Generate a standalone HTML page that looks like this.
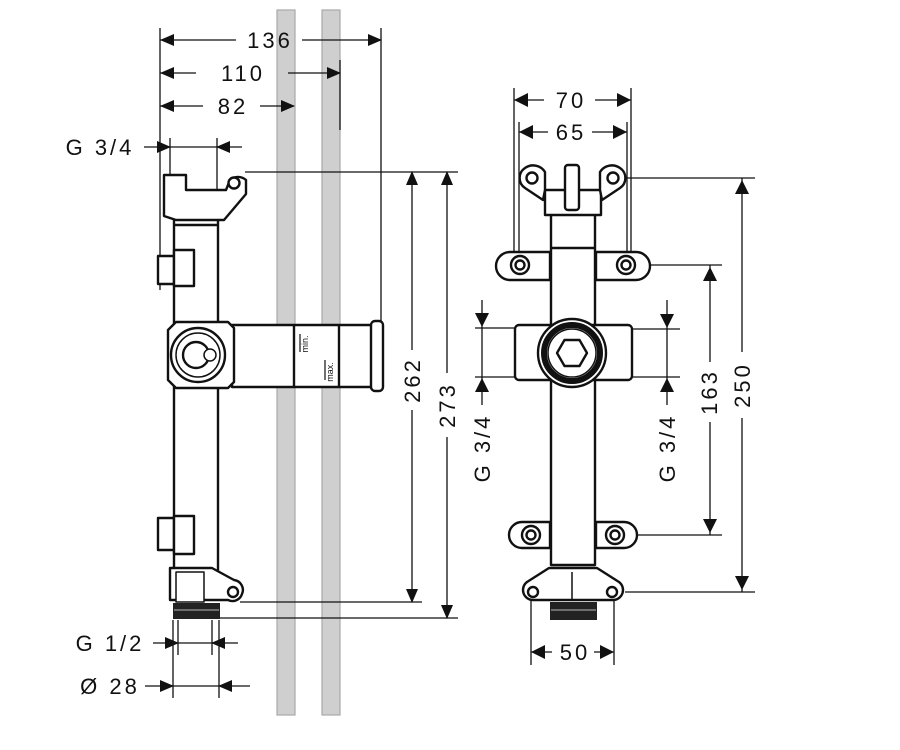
<!DOCTYPE html>
<html><head><meta charset="utf-8"><style>
html,body{margin:0;padding:0;background:#fff;}
svg{display:block;}
text{font-family:"Liberation Sans",sans-serif;fill:#111;letter-spacing:3px;}
</style></head><body>
<svg width="900" height="750" viewBox="0 0 900 750" xmlns="http://www.w3.org/2000/svg">
<defs>
<marker id="a" markerWidth="14" markerHeight="12" refX="13" refY="6" orient="auto" markerUnits="userSpaceOnUse"><path d="M0,0 L14,6 L0,12 Z" fill="#111"/></marker>
</defs>
<rect x="277" y="10" width="18" height="705" fill="#cfcfcf" stroke="#a8a8a8" stroke-width="1.2"/>
<rect x="322" y="10" width="18" height="705" fill="#cfcfcf" stroke="#a8a8a8" stroke-width="1.2"/>

<g stroke="#111" stroke-width="1.3" fill="none">
<line x1="160" y1="28" x2="160" y2="290"/>
<line x1="381" y1="28" x2="381" y2="322"/>
<line x1="340" y1="60" x2="340" y2="130"/>
<line x1="170" y1="138" x2="170" y2="175"/>
<line x1="217" y1="138" x2="217" y2="195"/>
<line x1="160" y1="40" x2="236" y2="40"/>
<line x1="302" y1="40" x2="381" y2="40" marker-end="url(#a)"/>
<line x1="160" y1="73" x2="196" y2="73"/>
<line x1="288" y1="73" x2="340" y2="73" marker-end="url(#a)"/>
<line x1="160" y1="106" x2="203" y2="106"/>
<line x1="260" y1="106" x2="294" y2="106" marker-end="url(#a)"/>
<line x1="144" y1="147" x2="170" y2="147" marker-end="url(#a)"/>
<line x1="170" y1="147" x2="217" y2="147"/>
<line x1="242" y1="147" x2="217" y2="147" marker-end="url(#a)"/>
<line x1="245" y1="172" x2="458" y2="172"/>
<line x1="240" y1="602" x2="422" y2="602"/>
<line x1="220" y1="618" x2="458" y2="618"/>
<line x1="412" y1="350" x2="412" y2="172" marker-end="url(#a)"/>
<line x1="412" y1="410" x2="412" y2="602" marker-end="url(#a)"/>
<line x1="447" y1="373" x2="447" y2="172" marker-end="url(#a)"/>
<line x1="447" y1="437" x2="447" y2="618" marker-end="url(#a)"/>
<line x1="173" y1="620" x2="173" y2="698"/>
<line x1="219" y1="620" x2="219" y2="698"/>
<line x1="178" y1="620" x2="178" y2="655"/>
<line x1="212" y1="620" x2="212" y2="655"/>
<line x1="153" y1="643" x2="178" y2="643" marker-end="url(#a)"/>
<line x1="178" y1="643" x2="212" y2="643"/>
<line x1="238" y1="643" x2="212" y2="643" marker-end="url(#a)"/>
<line x1="145" y1="686" x2="173" y2="686" marker-end="url(#a)"/>
<line x1="173" y1="686" x2="219" y2="686"/>
<line x1="250" y1="686" x2="219" y2="686" marker-end="url(#a)"/>
</g>
<g fill="#111">
<path d="M160,40 l14,-6 v12z"/><path d="M160,73 l14,-6 v12z"/><path d="M160,106 l14,-6 v12z"/>
</g>
<g font-size="22" text-anchor="middle">
<text x="270" y="48">136</text>
<text x="243" y="81">110</text>
<text x="233" y="114">82</text>
<text x="100" y="155">G 3/4</text>
<text x="110" y="651">G 1/2</text>
<text x="110" y="694">Ø 28</text>
<text transform="translate(420,380) rotate(-90)">262</text>
<text transform="translate(455,405) rotate(-90)">273</text>
</g>

<g stroke="#111" stroke-width="2.4" fill="#fff" stroke-linejoin="round">
<rect x="174" y="195" width="44" height="400"/>
<path d="M164,175 h22 v15 h40 l4,-10 a12,12 0 0 1 16,0 v14 l-22,26 h-48 l-12,-4z"/>
<circle cx="234" cy="183" r="5.5"/>
<line x1="174" y1="225" x2="218" y2="225"/>
<path d="M158,256 h16 v28 h-16 z"/>
<rect x="174" y="250" width="20" height="36"/>
<rect x="232" y="325" width="140" height="62"/>
<rect x="371" y="321" width="12" height="70" rx="4"/>
<line x1="294" y1="325" x2="294" y2="387"/>
<line x1="339" y1="325" x2="339" y2="387"/>
<path d="M176,322 h52 l6,6 v54 l-6,6 h-52 l-8,-8 v-50z"/>
<circle cx="198" cy="355" r="27"/>
<circle cx="198" cy="355" r="22" stroke-width="1.5"/>
<circle cx="196" cy="355" r="13"/>
<circle cx="210" cy="355" r="6" stroke-width="1.5"/>
<path d="M158,518 h16 v32 h-16z"/>
<rect x="174" y="516" width="20" height="38"/>
<path d="M170,568 h42 l22,12 a10,10 0 0 1 8,14 a10,10 0 0 1 -14,6 h-58z"/>
<circle cx="233" cy="592" r="5"/>
<rect x="176" y="572" width="28" height="30" stroke-width="1.5"/>
</g>
<rect x="173" y="603" width="47" height="16" fill="#222"/>
<line x1="174" y1="610" x2="219" y2="610" stroke="#888" stroke-width="1.5"/>
<g font-size="9" text-anchor="middle" style="letter-spacing:0">
<text transform="translate(308,344) rotate(-90)" style="letter-spacing:0">min.</text>
<text transform="translate(333,372) rotate(-90)" style="letter-spacing:0">max.</text>
</g>
<g stroke="#111" stroke-width="1.2">
<line x1="300" y1="334" x2="300" y2="352"/><line x1="325" y1="360" x2="325" y2="380"/>
</g>

<g stroke="#111" stroke-width="1.3" fill="none">
<line x1="514" y1="88" x2="514" y2="255"/>
<line x1="631" y1="88" x2="631" y2="255"/>
<line x1="519" y1="122" x2="519" y2="255"/>
<line x1="627" y1="122" x2="627" y2="255"/>
<line x1="514" y1="100" x2="544" y2="100"/><line x1="595" y1="100" x2="631" y2="100"/>
<line x1="519" y1="132" x2="548" y2="132"/><line x1="592" y1="132" x2="627" y2="132"/>
<line x1="625" y1="178" x2="755" y2="178"/>
<line x1="645" y1="265" x2="722" y2="265"/>
<line x1="635" y1="535" x2="722" y2="535"/>
<line x1="625" y1="592" x2="755" y2="592"/>
<line x1="742" y1="178" x2="742" y2="352"/><line x1="742" y1="418" x2="742" y2="592"/>
<line x1="710" y1="265" x2="710" y2="362"/><line x1="710" y1="422" x2="710" y2="535"/>
<line x1="475" y1="328" x2="515" y2="328"/><line x1="475" y1="377" x2="515" y2="377"/>
<line x1="482" y1="300" x2="482" y2="405"/>
<line x1="632" y1="329" x2="680" y2="329"/><line x1="632" y1="377" x2="680" y2="377"/>
<line x1="667" y1="300" x2="667" y2="405"/>
<line x1="531" y1="600" x2="531" y2="665"/><line x1="614" y1="600" x2="614" y2="665"/>
<line x1="531" y1="652" x2="552" y2="652"/><line x1="594" y1="652" x2="614" y2="652"/>
</g>
<g fill="#111">
<path d="M514,100 l14,-7 v14z"/><path d="M631,100 l-14,-7 v14z"/>
<path d="M519,132 l14,-7 v14z"/><path d="M627,132 l-14,-7 v14z"/>
<path d="M742,180 l-7,14 h14z"/><path d="M742,590 l-7,-14 h14z"/>
<path d="M710,267 l-7,14 h14z"/><path d="M710,533 l-7,-14 h14z"/>
<path d="M482,327 l-7,-14 h14z"/><path d="M482,378 l-7,14 h14z"/>
<path d="M667,328 l-7,-14 h14z"/><path d="M667,378 l-7,14 h14z"/>
<path d="M531,652 l14,-7 v14z"/><path d="M614,652 l-14,-7 v14z"/>
</g>
<g font-size="22" text-anchor="middle">
<text x="571" y="108">70</text>
<text x="571" y="140">65</text>
<text x="575" y="660">50</text>
<text transform="translate(490,448) rotate(-90)">G 3/4</text>
<text transform="translate(675,448) rotate(-90)">G 3/4</text>
<text transform="translate(717,392) rotate(-90)">163</text>
<text transform="translate(750,385) rotate(-90)">250</text>
</g>

<g stroke="#111" stroke-width="2.4" fill="#fff" stroke-linejoin="round">
<rect x="551" y="205" width="44" height="360"/>
<path d="M545,190 h56 v25 h-56z"/>
<path d="M525,168 a14,14 0 0 1 20,4 v18 l-2,10 l-18,-12 a12,12 0 0 1 0,-20z"/>
<path d="M620,168 a14,14 0 0 0 -20,4 v18 l2,10 l18,-12 a12,12 0 0 0 0,-20z"/>
<circle cx="532" cy="178" r="5.5"/><circle cx="613" cy="178" r="5.5"/>
<rect x="565" y="165" width="14" height="45" rx="3"/>
<line x1="551" y1="248" x2="595" y2="248"/>
<path d="M510,252 h40 v28 h-40 a14,14 0 0 1 0,-28z"/>
<path d="M636,252 h-40 v28 h40 a14,14 0 0 0 0,-28z"/>
<circle cx="520" cy="265" r="9"/><circle cx="520" cy="265" r="4.5"/>
<circle cx="626" cy="265" r="9"/><circle cx="626" cy="265" r="4.5"/>
<rect x="515" y="325" width="117" height="55" rx="4"/>
<circle cx="572" cy="353" r="34"/>
<circle cx="572" cy="353" r="28" stroke-width="6"/>
<circle cx="572" cy="353" r="24" stroke-width="1.5"/>
<path d="M557,353 l7.5,-13 h15 l7.5,13 l-7.5,13 h-15z"/>
<path d="M522,522 h28 v26 h-28 a13,13 0 0 1 0,-26z"/>
<path d="M624,522 h-28 v26 h28 a13,13 0 0 0 0,-26z"/>
<circle cx="531" cy="535" r="9"/><circle cx="531" cy="535" r="4.5"/>
<circle cx="615" cy="535" r="9"/><circle cx="615" cy="535" r="4.5"/>
<path d="M549,568 h48 l22,14 a10,10 0 0 1 -6,18 h-80 a10,10 0 0 1 -6,-18z"/>
<circle cx="533" cy="592" r="5"/><circle cx="612" cy="592" r="5"/>
<line x1="572" y1="572" x2="572" y2="600" stroke-width="1.5"/>
</g>
<rect x="550" y="602" width="47" height="18" fill="#222"/>
<line x1="551" y1="610" x2="596" y2="610" stroke="#888" stroke-width="1.5"/>
</svg>
</body></html>
